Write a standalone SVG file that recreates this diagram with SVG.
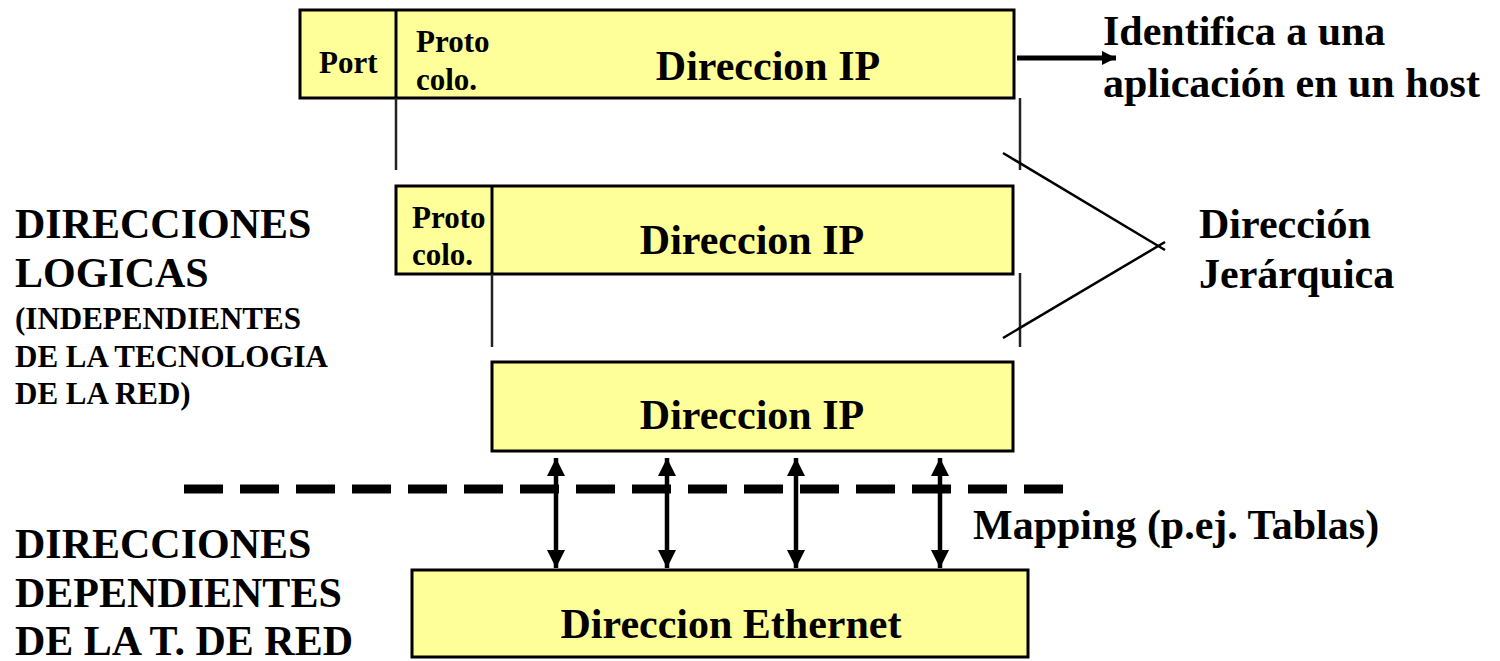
<svg xmlns="http://www.w3.org/2000/svg" width="1500" height="661" viewBox="0 0 1500 661">
  <style>
    text { font-family: "Liberation Serif", "Times New Roman", serif; font-weight: bold; fill: #000; }
    .big { font-size: 42px; }
    .small { font-size: 31px; }
    .box { fill: #FFFF99; stroke: #000; stroke-width: 3; }
    .div { stroke: #000; stroke-width: 3; }
    .tick { stroke: #222; stroke-width: 2.5; }
    .thin { stroke: #000; stroke-width: 2.5; fill: none; }
    .map { stroke: #000; stroke-width: 4.5; }
  </style>
  <defs>
    <marker id="head" viewBox="0 0 10 10" refX="10" refY="5" markerWidth="4" markerHeight="4.2" markerUnits="strokeWidth" orient="auto-start-reverse">
      <path d="M0,0 L10,5 L0,10 Z" fill="#000"/>
    </marker>
    <marker id="headR" viewBox="0 0 10 10" refX="10" refY="5" markerWidth="3.2" markerHeight="2.8" markerUnits="strokeWidth" orient="auto">
      <path d="M0,0 L10,5 L0,10 Z" fill="#000"/>
    </marker>
  </defs>

  <!-- side labels -->
  <g id="label-logicas">
    <text class="big" x="15" y="238">DIRECCIONES</text>
    <text class="big" x="15" y="287">LOGICAS</text>
    <text class="small" x="15" y="329">(INDEPENDIENTES</text>
    <text class="small" x="15" y="367">DE LA TECNOLOGIA</text>
    <text class="small" x="15" y="404">DE LA RED)</text>
  </g>
  <g id="label-dependientes">
    <text class="big" x="15" y="558">DIRECCIONES</text>
    <text class="big" x="15" y="607">DEPENDIENTES</text>
    <text class="big" x="15" y="655">DE LA T. DE RED</text>
  </g>

  <!-- port + protocol + IP address -->
  <g id="node-socket">
    <rect class="box" x="300" y="10" width="714" height="88"/>
    <line class="div" x1="396" y1="10" x2="396" y2="98"/>
    <text class="small" x="319" y="73">Port</text>
    <text class="small" x="416" y="52">Proto</text>
    <text class="small" x="416" y="90">colo.</text>
    <text class="big" x="768" y="80" text-anchor="middle">Direccion IP</text>
  </g>

  <!-- protocol + IP address -->
  <g id="node-proto-ip">
    <rect class="box" x="396" y="186" width="617" height="88"/>
    <line class="div" x1="492" y1="186" x2="492" y2="274"/>
    <text class="small" x="412" y="228">Proto</text>
    <text class="small" x="412" y="265">colo.</text>
    <text class="big" x="752" y="254" text-anchor="middle">Direccion IP</text>
  </g>

  <!-- IP address -->
  <g id="node-ip">
    <rect class="box" x="492" y="362" width="521" height="89"/>
    <text class="big" x="752" y="429" text-anchor="middle">Direccion IP</text>
  </g>

  <!-- Ethernet address -->
  <g id="node-ethernet">
    <rect class="box" x="412" y="570" width="616" height="87"/>
    <text class="big" x="731" y="638" text-anchor="middle">Direccion Ethernet</text>
  </g>

  <g id="label-identifica">
    <text class="big" x="1103" y="45">Identifica a una</text>
    <text class="big" x="1103" y="97">aplicación en un host</text>
  </g>

  <g id="label-jerarquica">
    <text class="big" x="1199" y="238">Dirección</text>
    <text class="big" x="1199" y="288">Jerárquica</text>
  </g>

  <g id="label-mapping">
    <text class="big" x="973" y="539">Mapping (p.ej. Tablas)</text>
  </g>

  <!-- connectors -->
  <g id="connectors">
    <!-- extent ticks -->
    <line class="tick" x1="396" y1="98" x2="396" y2="170"/>
    <line class="tick" x1="1020" y1="98" x2="1020" y2="170"/>
    <line class="tick" x1="492" y1="274" x2="492" y2="347"/>
    <line class="tick" x1="1020" y1="273" x2="1020" y2="347"/>

    <!-- hierarchy bracket -->
    <line class="thin" x1="1003" y1="153" x2="1165" y2="250"/>
    <line class="thin" x1="1003" y1="338" x2="1165" y2="242"/>

    <!-- identifies arrow -->
    <line x1="1017" y1="58" x2="1116" y2="58" stroke="#000" stroke-width="5" marker-end="url(#headR)"/>

    <!-- layer boundary -->
    <line x1="184" y1="489" x2="1064" y2="489" stroke="#000" stroke-width="9" stroke-dasharray="39 17"/>

    <!-- mapping arrows -->
    <line class="map" x1="556" y1="458" x2="556" y2="568" marker-start="url(#head)" marker-end="url(#head)"/>
    <line class="map" x1="667" y1="458" x2="667" y2="568" marker-start="url(#head)" marker-end="url(#head)"/>
    <line class="map" x1="796" y1="458" x2="796" y2="568" marker-start="url(#head)" marker-end="url(#head)"/>
    <line class="map" x1="940" y1="458" x2="940" y2="568" marker-start="url(#head)" marker-end="url(#head)"/>
  </g>
</svg>
